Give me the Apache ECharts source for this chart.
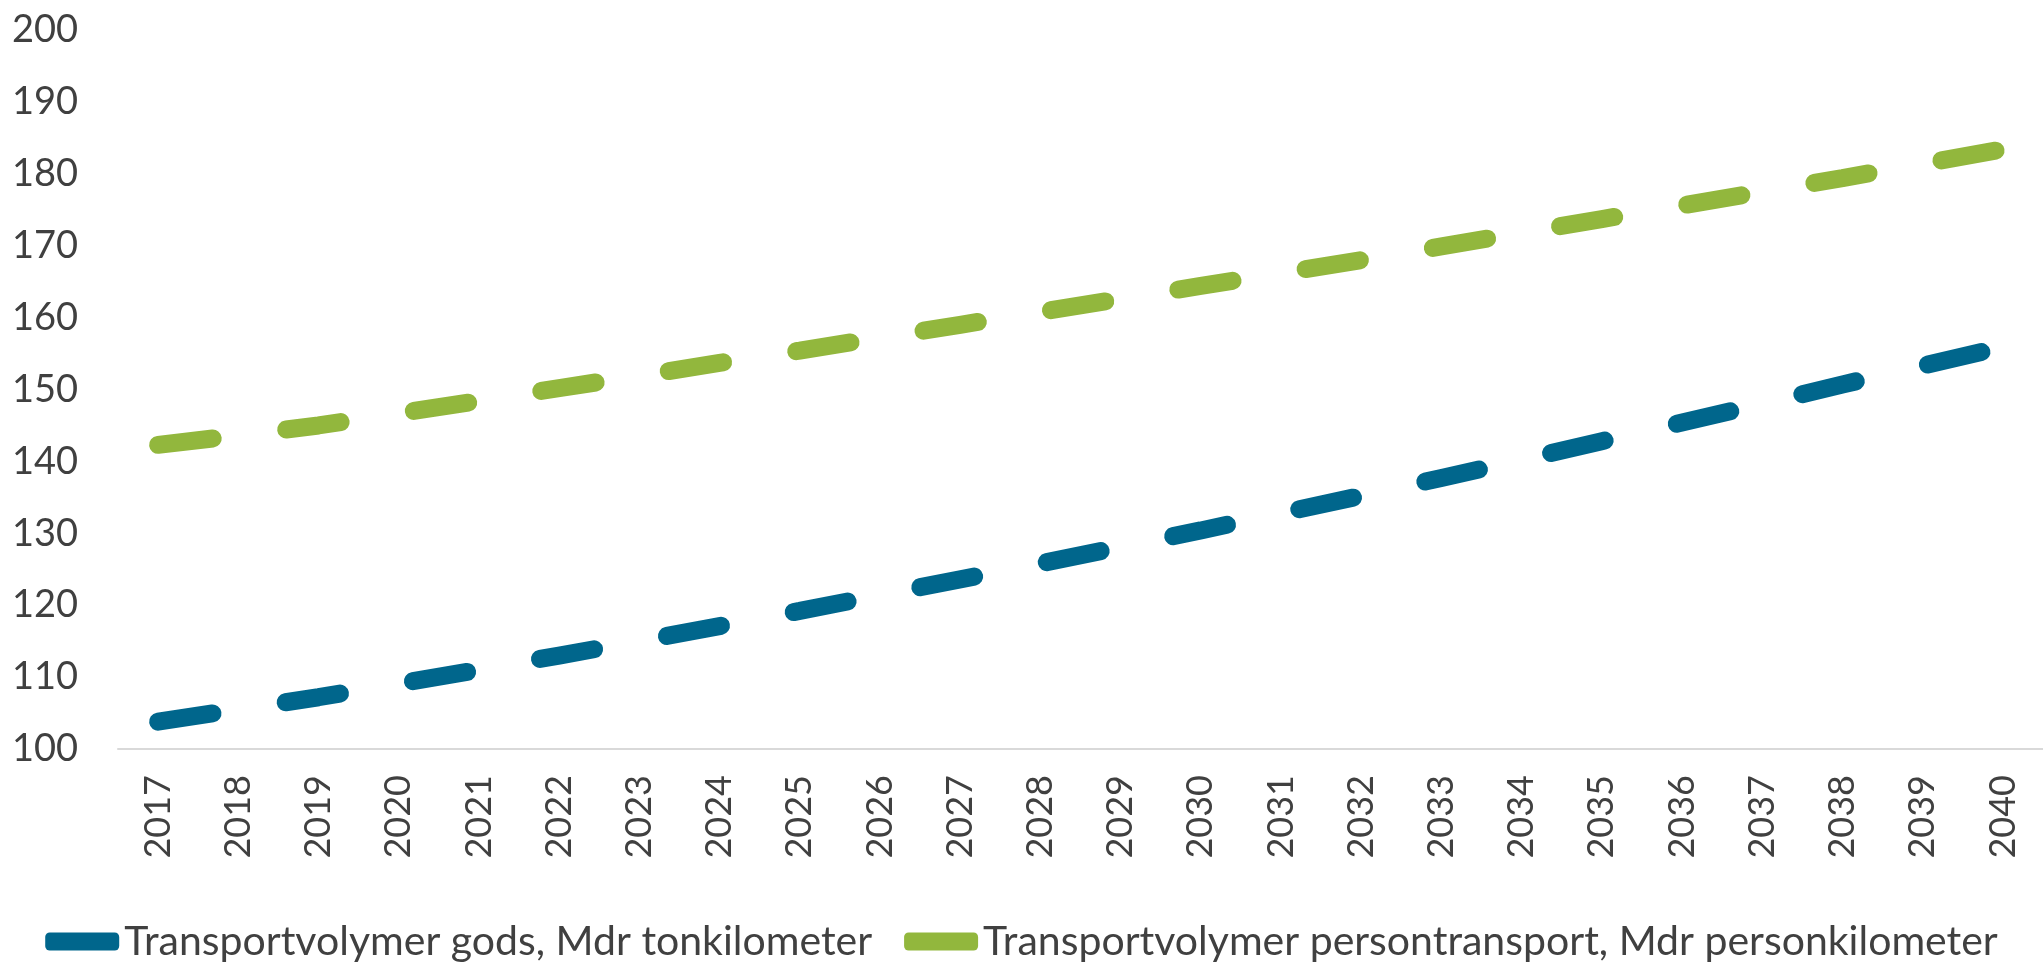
<!DOCTYPE html>
<html>
<head>
<meta charset="utf-8">
<script src="https://cdn.jsdelivr.net/npm/echarts@6/dist/echarts.min.js"></script>
<style>
    html, body { margin: 0; padding: 0; background: #fff; overflow: hidden; }
    #chart { width: 2043px; height: 971px; }
</style>
</head>
<body>
<div id="chart"></div>
<script>
// år på x-axeln
const years = ['2017', '2018', '2019', '2020', '2021', '2022', '2023', '2024', '2025', '2026', '2027', '2028',
    '2029', '2030', '2031', '2032', '2033', '2034', '2035', '2036', '2037', '2038', '2039', '2040']

// Transportvolymer gods, Mdr tonkilometer
const gods = [103.8, 105.5, 107.2, 109.1, 111.0, 113.0, 115.0, 117.1, 119.2, 121.4, 123.6, 125.8,
    128.1, 130.4, 132.8, 135.2, 137.7, 140.2, 142.8, 145.4, 148.0, 150.7, 153.3, 155.9]

// Transportvolymer persontransport, Mdr personkilometer
const person = [142.3, 143.6, 145.0, 146.7, 148.4, 150.2, 151.9, 153.7, 155.4, 157.2, 159.0, 160.8,
    162.6, 164.4, 166.2, 168.0, 169.9, 171.8, 173.7, 175.6, 177.5, 179.4, 181.4, 183.4]

const seriesNames = ['Transportvolymer gods, Mdr tonkilometer', 'Transportvolymer persontransport, Mdr personkilometer']

const textColor = '#404040'
const font = 'Lato'

const myChart = echarts.init(document.getElementById('chart'))

// streckad linje med rundade ändar
function dashLine(color) {
    return {
        color: color,
        width: 18,
        type: [55, 74],
        cap: 'round'
    }
}

myChart.setOption({
    animation: false,
    color: ['#00668c', '#92b73d'],
    grid: {
        left: 118,
        right: -19,
        top: 30,
        bottom: 222
    },
    legend: {
        bottom: 4,
        left: 'center',
        itemWidth: 74,
        itemHeight: 18,
        itemGap: 32,
        icon: 'roundRect',
        textStyle: {
            color: textColor,
            fontFamily: font,
            fontSize: 41
        },
        data: seriesNames
    },
    xAxis: {
        type: 'category',
        data: years,
        boundaryGap: true,
        axisTick: { show: false },
        axisLine: {
            lineStyle: { color: '#d9d9d9', width: 2 }
        },
        axisLabel: {
            rotate: 90,
            margin: 26,
            color: textColor,
            fontFamily: font,
            fontSize: 36,
            interval: 0
        }
    },
    yAxis: {
        type: 'value',
        min: 100,
        max: 200,
        interval: 10,
        axisLine: { show: false },
        axisTick: { show: false },
        splitLine: { show: false },
        axisLabel: {
            margin: 40,
            color: textColor,
            fontFamily: font,
            fontSize: 38
        }
    },
    series: [
        {
            name: seriesNames[0],
            type: 'line',
            data: gods,
            showSymbol: false,
            lineStyle: dashLine('#00668c')
        },
        {
            name: seriesNames[1],
            type: 'line',
            data: person,
            showSymbol: false,
            lineStyle: dashLine('#92b73d')
        }
    ]
})

window.addEventListener('resize', () => {
    myChart.resize()
})
</script>
</body>
</html>
